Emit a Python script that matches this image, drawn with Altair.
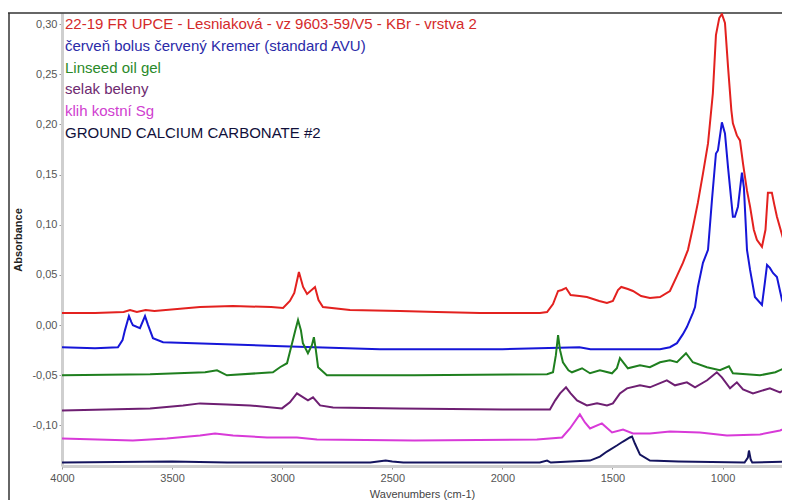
import altair as alt
import pandas as pd

# ---- data (wavenumber cm-1, absorbance) ----
red_w = [4000, 3850, 3720, 3691, 3660, 3620, 3580, 3373, 3224, 3050, 2996, 2965, 2945, 2924, 2905, 2887,
         2851, 2835, 2815, 2692, 2465, 2297, 2102, 1829, 1797, 1770, 1747, 1730, 1711, 1690, 1650, 1616,
         1560, 1525, 1498, 1475, 1460, 1430, 1407, 1370, 1330, 1284, 1239, 1207, 1180, 1157, 1135, 1112,
         1089, 1066, 1044, 1030, 1015, 1003, 989, 975, 960, 953, 935, 921, 907, 889, 875, 858, 844, 821,
         805, 794, 776, 765, 753, 726, 708, 694]
red_a = [0.012, 0.012, 0.013, 0.015, 0.013, 0.015, 0.014, 0.018, 0.019, 0.018, 0.017, 0.024, 0.032, 0.053,
         0.038, 0.031, 0.038, 0.025, 0.018, 0.015, 0.014, 0.013, 0.012, 0.012, 0.013, 0.021, 0.034, 0.035,
         0.037, 0.030, 0.029, 0.028, 0.024, 0.022, 0.024, 0.035, 0.038, 0.036, 0.034, 0.029, 0.027, 0.028,
         0.034, 0.049, 0.062, 0.075, 0.097, 0.122, 0.151, 0.181, 0.231, 0.289, 0.306, 0.310, 0.301, 0.257,
         0.214, 0.201, 0.189, 0.184, 0.161, 0.134, 0.118, 0.095, 0.085, 0.078, 0.095, 0.132, 0.132, 0.120,
         0.108, 0.087, 0.083, 0.098]

blue_w = [4000, 3850, 3746, 3725, 3714, 3696, 3685, 3678, 3646, 3623, 3609, 3587, 3541, 3400, 3000, 2556,
          2000, 1650, 1600, 1284, 1239, 1207, 1180, 1162, 1135, 1125, 1112, 1089, 1066, 1048, 1030, 1021,
          1003, 989, 975, 953, 944, 930, 912, 903, 889, 875, 853, 821, 808, 798, 785, 771, 753, 730, 721,
          708, 694]
blue_a = [-0.022, -0.023, -0.022, -0.015, -0.005, 0.009, 0.003, 0.000, -0.003, 0.009, 0.000, -0.013, -0.017,
          -0.018, -0.021, -0.024, -0.024, -0.022, -0.024, -0.024, -0.022, -0.018, -0.009, -0.002, 0.012,
          0.018, 0.038, 0.062, 0.075, 0.125, 0.171, 0.174, 0.202, 0.191, 0.157, 0.108, 0.108, 0.118, 0.152,
          0.137, 0.075, 0.055, 0.028, 0.020, 0.042, 0.060, 0.057, 0.052, 0.048, 0.025, 0.020, 0.045, 0.062]

green_w = [4000, 3600, 3350, 3296, 3251, 3042, 3010, 2978, 2955, 2940, 2928, 2915, 2906, 2883, 2865, 2856,
           2847, 2837, 2797, 2400, 1797, 1770, 1757, 1747, 1738, 1725, 1700, 1684, 1638, 1602, 1557, 1502,
           1480, 1466, 1430, 1375, 1330, 1284, 1239, 1207, 1166, 1135, 1071, 1012, 971, 953, 830, 760, 730,
           694]
green_a = [-0.050, -0.049, -0.047, -0.045, -0.050, -0.047, -0.042, -0.038, -0.018, -0.005, 0.005, -0.005,
           -0.018, -0.028, -0.020, -0.012, -0.025, -0.042, -0.050, -0.050, -0.049, -0.047, -0.030, -0.010,
           -0.025, -0.037, -0.045, -0.047, -0.043, -0.048, -0.045, -0.048, -0.043, -0.033, -0.043, -0.040,
           -0.042, -0.037, -0.035, -0.037, -0.028, -0.037, -0.042, -0.045, -0.041, -0.048, -0.050, -0.047,
           -0.044, -0.048]

purple_w = [4000, 3600, 3450, 3373, 3251, 3146, 3001, 2965, 2933, 2883, 2860, 2828, 2769, 2465, 2000, 1784,
            1760, 1738, 1711, 1690, 1661, 1616, 1570, 1525, 1498, 1466, 1434, 1375, 1330, 1253, 1216, 1162,
            1125, 1070, 1026, 1003, 966, 935, 907, 862, 785, 739, 694]
purple_a = [-0.085, -0.083, -0.080, -0.078, -0.079, -0.080, -0.083, -0.077, -0.068, -0.075, -0.072, -0.080,
            -0.082, -0.083, -0.084, -0.084, -0.075, -0.068, -0.062, -0.068, -0.075, -0.080, -0.078, -0.080,
            -0.078, -0.068, -0.063, -0.060, -0.062, -0.055, -0.060, -0.057, -0.062, -0.055, -0.047, -0.052,
            -0.063, -0.057, -0.064, -0.068, -0.063, -0.067, -0.061]

magenta_w = [4000, 3678, 3524, 3373, 3305, 3223, 3069, 2933, 2842, 2400, 1843, 1729, 1693, 1648, 1625, 1602,
             1548, 1502, 1452, 1407, 1330, 1239, 1103, 980, 830, 739, 694]
magenta_a = [-0.113, -0.115, -0.113, -0.110, -0.108, -0.110, -0.112, -0.112, -0.114, -0.115, -0.114, -0.112,
             -0.103, -0.089, -0.097, -0.103, -0.098, -0.107, -0.104, -0.108, -0.108, -0.106, -0.107, -0.110,
             -0.109, -0.105, -0.101]

navy_w = [4000, 3500, 3250, 2600, 2530, 2500, 2450, 1830, 1797, 1780, 1602, 1557, 1525, 1480, 1452, 1421,
          1411, 1398, 1375, 1330, 1200, 900, 885, 880, 872, 865, 720, 712, 706, 694]
navy_a = [-0.137, -0.136, -0.137, -0.137, -0.135, -0.136, -0.137, -0.137, -0.135, -0.137, -0.135, -0.131,
          -0.126, -0.120, -0.116, -0.112, -0.111, -0.118, -0.129, -0.135, -0.136, -0.137, -0.132, -0.125,
          -0.134, -0.137, -0.136, -0.132, -0.136, -0.137]

series_names = [
    "22-19 FR UPCE - Lesniaková - vz  9603-59/V5 - KBr - vrstva 2",
    "červeň bolus červený Kremer (standard AVU)",
    "Linseed oil gel",
    "selak beleny",
    "klih kostní  Sg",
    "GROUND CALCIUM CARBONATE #2",
]
line_colors = ["#e3211f", "#1616d8", "#1f7f1f", "#6e1f72", "#d83ad8", "#14145e"]
text_colors = ["#d42a2a", "#2a2aa8", "#2a8a2a", "#6e2a70", "#d040d0", "#10103a"]

x_ticks = [4000, 3500, 3000, 2500, 2000, 1500, 1000]
y_ticks = [-0.10, -0.05, 0.00, 0.05, 0.10, 0.15, 0.20, 0.25, 0.30]

# ---- build long table ----
all_w = [red_w, blue_w, green_w, purple_w, magenta_w, navy_w]
all_a = [red_a, blue_a, green_a, purple_a, magenta_a, navy_a]
rows = []
for i, (ws, as_) in enumerate(zip(all_w, all_a)):
    for w, a in zip(ws, as_):
        rows.append({"series": series_names[i], "wn": w, "abs": a})
df = pd.DataFrame(rows)

W, H = 720, 453
font = "Liberation Sans"

lines = alt.Chart(df).mark_line(strokeWidth=2, clip=True).encode(
    x=alt.X("wn:Q",
            scale=alt.Scale(domain=[730, 4000], reverse=True, nice=False, zero=False),
            axis=alt.Axis(values=x_ticks, format="d", title="Wavenumbers (cm-1)",
                          grid=False, domainColor="#cfcfcf", domainWidth=3,
                          tickColor="#999999", tickSize=3, labelColor="#555555",
                          labelFontSize=11, labelFont=font, titleFont=font,
                          titleFontSize=11, titleFontWeight="normal", titleColor="#444444",
                          labelPadding=3, titlePadding=5, labelFlush=False)),
    y=alt.Y("abs:Q",
            scale=alt.Scale(domain=[-0.1404, 0.311], nice=False, zero=False),
            axis=alt.Axis(values=y_ticks, title="Absorbance", grid=False,
                          labelExpr="replace(replace(format(datum.value, '.2f'), '.', ','), '\u2212', '-')",
                          domainColor="#cfcfcf", domainWidth=3, tickColor="#999999", tickSize=3,
                          labelColor="#555555", labelFontSize=11, labelFont=font,
                          titleFont=font, titleFontSize=11, titleFontWeight="bold",
                          titleColor="#222222", titleX=-39, labelPadding=2)),
    color=alt.Color("series:N", scale=alt.Scale(domain=series_names, range=line_colors), legend=None),
    detail="series:N",
)

dummy = pd.DataFrame({"a": [0]})
frame_top = alt.Chart(dummy).mark_rule(color="#333333", strokeWidth=1.5).encode(
    x=alt.value(-54), x2=alt.value(W), y=alt.value(0))
frame_left = alt.Chart(dummy).mark_rule(color="#333333", strokeWidth=1.5).encode(
    x=alt.value(-53), y=alt.value(0), y2=alt.value(H + 40))

texts = []
for i, (name, col) in enumerate(zip(series_names, text_colors)):
    texts.append(alt.Chart(dummy).mark_text(align="left", baseline="middle", font=font,
                                            fontSize=15, color=col).encode(
        x=alt.value(3), y=alt.value(11 + i * 21.8), text=alt.value(name)))

chart = alt.layer(frame_top, frame_left, lines, *texts).properties(
    width=W, height=H,
    autosize=alt.AutoSizeParams(type="none"),
    padding={"left": 54, "top": 5, "right": 0, "bottom": 34},
).configure_view(stroke=None)

chart.save("out.html", embed_options={"renderer": "svg", "actions": False})
